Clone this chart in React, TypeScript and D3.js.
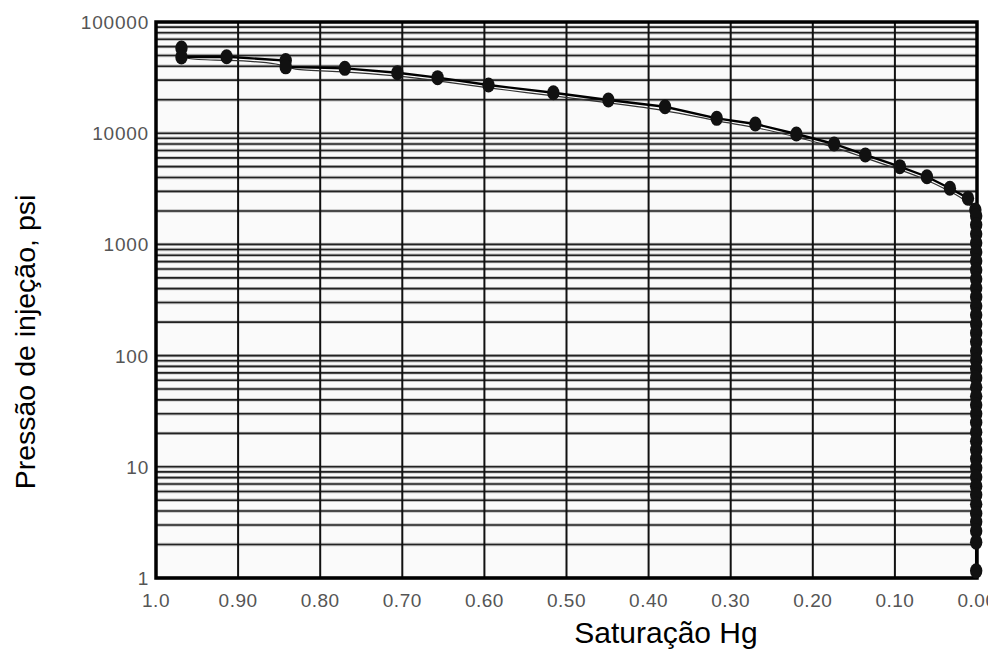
import React from "react";
import * as d3 from "d3";

// Saturação Hg (fraction) and injection pressure (psi) — upper curve
const saturacao = [
  0.969, 0.969, 0.914, 0.842, 0.842, 0.770, 0.706, 0.657, 0.595, 0.516, 0.449, 0.380,
  0.317, 0.270, 0.220, 0.174, 0.136, 0.094, 0.061, 0.033, 0.011, 0.002,
];
const pressao = [
  58300, 48400, 48700, 45000, 39500, 38300, 35000, 31600, 27100, 23100, 19900, 17300,
  13600, 12100, 9840, 8000, 6370, 5000, 4060, 3200, 2600, 2040,
];
// points along the right edge (saturação ≈ 0.001)
const saturacaoColuna = [
  0.001, 0.001, 0.001, 0.001, 0.001, 0.001, 0.001, 0.001, 0.001, 0.001,
  0.001, 0.001, 0.001, 0.001, 0.001, 0.001, 0.001, 0.001, 0.001, 0.001,
  0.001, 0.001, 0.001, 0.001, 0.001, 0.001, 0.001, 0.001, 0.001, 0.001,
  0.001, 0.001, 0.001, 0.001, 0.001, 0.001, 0.001, 0.001,
];
const pressaoColuna = [
  1800, 1500, 1240, 1030, 855, 710, 589, 489, 405, 337,
  279, 232, 192, 160, 133, 110, 91, 76, 63, 52,
  43, 36, 30, 25, 20.5, 17, 14.2, 11.8, 9.8, 8.1,
  6.7, 5.6, 4.6, 3.8, 3.2, 2.65, 2.1, 1.16,
];

const xTicks = [1.0, 0.9, 0.8, 0.7, 0.6, 0.5, 0.4, 0.3, 0.2, 0.1, 0.0];
const xTickLabels = ["1.0", "0.90", "0.80", "0.70", "0.60", "0.50", "0.40", "0.30", "0.20", "0.10", "0.00"];
const yTicks = [1, 10, 100, 1000, 10000, 100000];
const yTickLabels = ["1", "10", "100", "1000", "10000", "100000"];
const decades = [1, 10, 100, 1000, 10000];
const multiples = [1, 2, 3, 4, 5, 6, 7, 8, 9];

const xTitle = "Saturação Hg";
const yTitle = "Pressão de injeção, psi";

const W = 999;
const H = 651;
const L = 156;
const R = 977;
const T = 22;
const B = 578;

export default function App() {
  const x = d3.scaleLinear().domain([1, 0]).range([L, R]);
  const y = d3.scaleLog().domain([1, 100000]).range([B, T]);
  const pts: [number, number][] = saturacao
    .map((s, i) => [s, pressao[i]] as [number, number])
    .concat(saturacaoColuna.map((s, i) => [s, pressaoColuna[i]] as [number, number]));
  const line = d3
    .line<[number, number]>()
    .x((d) => x(d[0]))
    .y((d) => y(d[1]));
  const smooth = d3
    .line<[number, number]>()
    .x((d) => x(d[0]))
    .y((d) => y(d[1]))
    .curve(d3.curveBasis);

  const hLines: number[] = [];
  decades.forEach((dd) => multiples.forEach((m) => hLines.push(dd * m)));

  const font = "'Liberation Sans', Arial, sans-serif";

  return (
    <svg
      width={W}
      height={H}
      style={{ position: "absolute", left: 0, top: 0, background: "#fff" }}
    >
      <defs>
        <clipPath id="pageclip">
          <rect x={0} y={0} width={988} height={H} />
        </clipPath>
      </defs>
      <rect x={L} y={T} width={R - L} height={B - T} fill="#fafafa" />
      {hLines.map((v) => (
        <g key={"h" + v}>
          <line x1={L} x2={R} y1={y(v)} y2={y(v)} stroke="#9a9a9a" strokeWidth={3.4} opacity={0.6} />
          <line x1={L} x2={R} y1={y(v)} y2={y(v)} stroke="#222" strokeWidth={1.6} />
        </g>
      ))}
      {xTicks.map((t) => (
        <line key={"v" + t} x1={x(t)} x2={x(t)} y1={T} y2={B} stroke="#111" strokeWidth={2} />
      ))}
      <rect x={L} y={T} width={R - L} height={B - T} fill="none" stroke="#000" strokeWidth={3.5} />

      <path d={smooth(pts) || ""} fill="none" stroke="#333" strokeWidth={1.2} transform="translate(0,3)" />
      <path d={line(pts) || ""} fill="none" stroke="#000" strokeWidth={2.4} />
      {pts.map((p, i) => (
        <ellipse key={"p" + i} cx={x(p[0])} cy={y(p[1])} rx={6.2} ry={7.5} fill="#111" />
      ))}

      <g clipPath="url(#pageclip)">
        {xTicks.map((t, i) => (
          <text
            key={"xt" + t}
            x={x(t)}
            y={607}
            textAnchor="middle"
            fontFamily={font}
            fontSize={19}
            letterSpacing={0.5}
            fill="#555"
          >
            {xTickLabels[i]}
          </text>
        ))}
      </g>
      {yTicks.map((t, i) => (
        <text
          key={"yt" + t}
          x={149}
          y={y(t) + 7}
          textAnchor="end"
          fontFamily={font}
          fontSize={19}
          letterSpacing={0.8}
          fill="#555"
        >
          {yTickLabels[i]}
        </text>
      ))}
      <text x={666} y={643} textAnchor="middle" fontFamily={font} fontSize={30} fill="#000">
        {xTitle}
      </text>
      <text
        transform={`translate(35,342) rotate(-90)`}
        textAnchor="middle"
        fontFamily={font}
        fontSize={28.5}
        fill="#000"
      >
        {yTitle}
      </text>
    </svg>
  );
}
